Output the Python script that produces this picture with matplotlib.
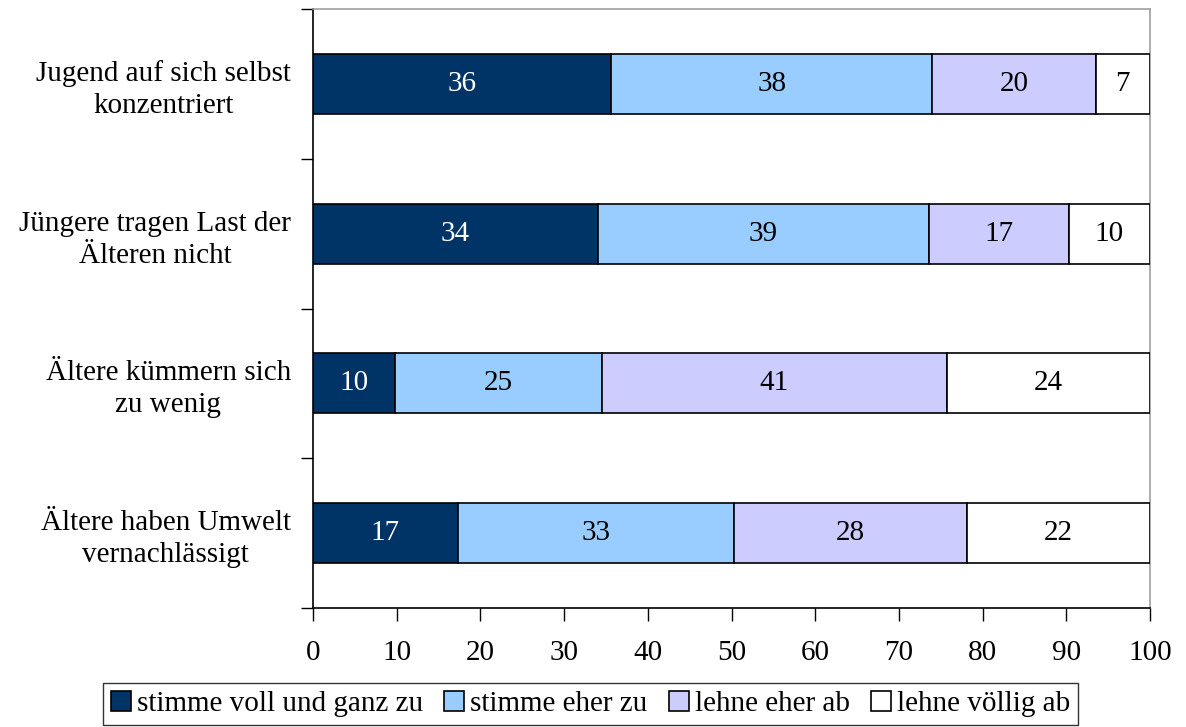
import matplotlib
matplotlib.use("Agg")
import matplotlib.pyplot as plt
from matplotlib.patches import Patch
import numpy as np

categories = ["Jugend auf sich selbst\nkonzentriert",
              "Jüngere tragen Last der\nÄlteren nicht",
              "Ältere kümmern sich\nzu wenig",
              "Ältere haben Umwelt\nvernachlässigt"]
series_names = ["stimme voll und ganz zu", "stimme eher zu", "lehne eher ab", "lehne völlig ab"]
voll_zu = [35.6, 34.05, 9.8, 17.3]
eher_zu = [38.4, 39.55, 24.7, 33.0]
eher_ab = [19.5, 16.7, 41.2, 27.8]
voellig_ab = [6.5, 9.7, 24.3, 21.9]
labels_voll_zu = ["36", "34", "10", "17"]
labels_eher_zu = ["38", "39", "25", "33"]
labels_eher_ab = ["20", "17", "41", "28"]
labels_voellig_ab = ["7", "10", "24", "22"]

colors = ["#003366", "#99CCFF", "#CCCCFF", "#FFFFFF"]
text_colors = ["white", "black", "black", "black"]

plt.rcParams['font.family'] = ['Liberation Serif', 'DejaVu Serif']
FS = 21

fig = plt.figure(figsize=(11.86, 7.27), dpi=100)
ax = fig.add_axes([313/1186, 1-608/727, (1150-313)/1186, (608-9)/727])

series = [voll_zu, eher_zu, eher_ab, voellig_ab]
lab = [labels_voll_zu, labels_eher_zu, labels_eher_ab, labels_voellig_ab]
ypos = np.arange(len(categories)) + 0.5
left = np.zeros(len(categories))
for vals, labs, c, tc in zip(series, lab, colors, text_colors):
    vals = np.array(vals)
    ax.barh(ypos, vals, left=left, height=0.4, color=c, edgecolor="black", linewidth=1.2, zorder=3)
    for y, l, v, t in zip(ypos, left, vals, labs):
        ax.text(l + v/2, y, t, ha="center", va="center", color=tc, fontsize=FS, zorder=4)
    left = left + vals

ax.set_xlim(0, 100)
ax.set_ylim(len(categories), 0)
ax.set_xticks(np.arange(0, 101, 10))
ax.tick_params(axis="x", labelsize=FS, length=9, width=1, direction="out", pad=14)
ax.set_yticks(np.arange(0, len(categories)+1))
ax.set_yticklabels([])
ax.set_yticks(ypos, minor=True)
ax.set_yticklabels(categories, minor=True, fontsize=FS, multialignment="center", linespacing=1.3)
ax.tick_params(axis="y", which="major", length=9, width=1, direction="out")
ax.tick_params(axis="y", which="minor", length=0, pad=16)

for s in ["left", "bottom"]:
    ax.spines[s].set_color("black")
    ax.spines[s].set_linewidth(1.2)
for s in ["top", "right"]:
    ax.spines[s].set_color("#A0A0A0")
    ax.spines[s].set_linewidth(1.2)

handles = [Patch(facecolor=c, edgecolor="black", linewidth=1.2) for c in colors]
leg = fig.legend(handles, series_names, loc="center", bbox_to_anchor=(590.5/1186, 1-704/727),
                 ncol=4, fontsize=FS, frameon=True, fancybox=False, edgecolor="black",
                 handlelength=0.7, handleheight=0.7, handletextpad=0.2, columnspacing=0.72,
                 borderpad=0.28, borderaxespad=0)
leg.get_frame().set_linewidth(1.0)

fig.savefig("out.png", dpi=100)
